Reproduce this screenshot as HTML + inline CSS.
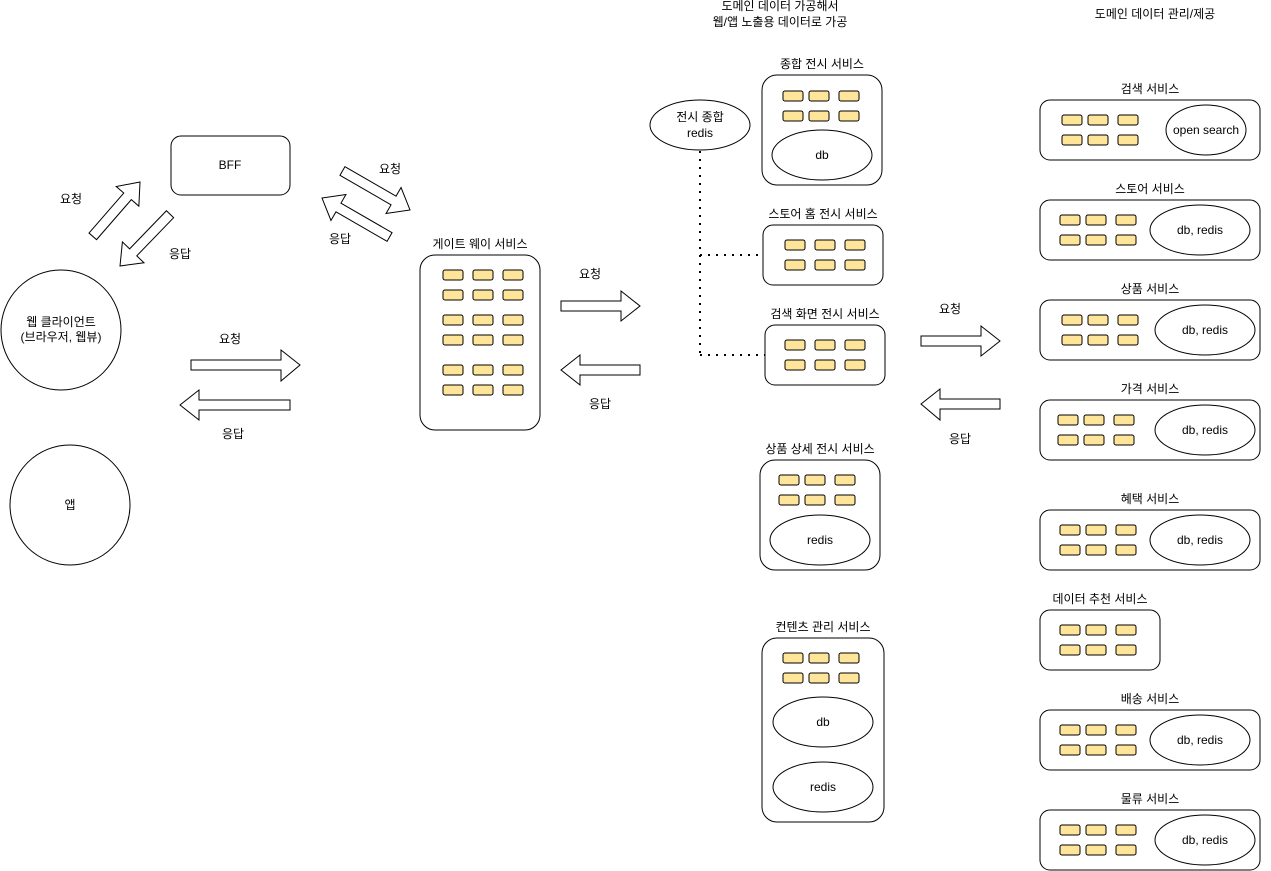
<!DOCTYPE html>
<html><head><meta charset="utf-8"><style>
html,body{margin:0;padding:0;background:#fff;}
svg{display:block;}
text{font-family:"Liberation Sans","Noto Sans CJK KR",sans-serif;font-size:12px;fill:#000;text-anchor:middle;}
.s{fill:#ffe599;stroke:#000;stroke-width:1;}
.b{fill:#fff;stroke:#000;stroke-width:1;}
</style></head><body>
<svg width="1271" height="871" viewBox="0 0 1271 871" xmlns="http://www.w3.org/2000/svg">
<defs>
<polygon id="ar" points="0,-5 -19,-5 -19,-15 0,0 -19,15 -19,5 0,5" />
<g id="g6">
<rect class="s" x="0" y="0" width="20" height="10" rx="2"/>
<rect class="s" x="26" y="0" width="20" height="10" rx="2"/>
<rect class="s" x="56" y="0" width="20" height="10" rx="2"/>
<rect class="s" x="0" y="20" width="20" height="10" rx="2"/>
<rect class="s" x="26" y="20" width="20" height="10" rx="2"/>
<rect class="s" x="56" y="20" width="20" height="10" rx="2"/>
</g>
<g id="g6b">
<rect class="s" x="0" y="0" width="20" height="10" rx="2"/>
<rect class="s" x="30" y="0" width="20" height="10" rx="2"/>
<rect class="s" x="60" y="0" width="20" height="10" rx="2"/>
<rect class="s" x="0" y="20" width="20" height="10" rx="2"/>
<rect class="s" x="30" y="20" width="20" height="10" rx="2"/>
<rect class="s" x="60" y="20" width="20" height="10" rx="2"/>
</g>
</defs>

<!-- left side -->
<circle class="b" cx="61" cy="330" r="60"/>
<text x="61" y="326">웹 클라이언트</text>
<text x="61" y="341">(브라우저, 웹뷰)</text>
<circle class="b" cx="70" cy="505" r="60"/>
<text x="70" y="509">앱</text>
<rect class="b" x="171" y="136" width="119" height="59" rx="10"/>
<text x="230" y="169">BFF</text>

<!-- diagonal arrows -->
<g transform="translate(140,183) rotate(-50)"><path class="b" d="M0,-5 L-57,-5 L-57,5 L0,5" style="display:none"/></g>
<g transform="translate(140,182) rotate(-49)">
<polygon class="b" points="-72,-5 -19,-5 -19,-15 0,0 -19,15 -19,5 -72,5"/></g>
<g transform="translate(120,266) rotate(134)">
<polygon class="b" points="-72,-5 -19,-5 -19,-15 0,0 -19,15 -19,5 -72,5"/></g>
<g transform="translate(410,210) rotate(30)">
<polygon class="b" points="-78,-5 -19,-5 -19,-15 0,0 -19,15 -19,5 -78,5"/></g>
<g transform="translate(322,198) rotate(210)">
<polygon class="b" points="-78,-5 -19,-5 -19,-15 0,0 -19,15 -19,5 -78,5"/></g>
<text x="71" y="203">요청</text>
<text x="180" y="258">응답</text>
<text x="390" y="173">요청</text>
<text x="340" y="243">응답</text>

<!-- horizontal arrows -->
<polygon class="b" points="191,360 281,360 281,350 300,365 281,381 281,370 191,370"/>
<polygon class="b" points="290,400 199,400 199,390 180,405 199,420 199,410 290,410"/>
<text x="230" y="343">요청</text>
<text x="233" y="438">응답</text>
<polygon class="b" points="561,301 621,301 621,291 640,306 621,321 621,311 561,311"/>
<polygon class="b" points="640,365 580,365 580,355 561,370 580,385 580,375 640,375"/>
<text x="590" y="278">요청</text>
<text x="600" y="408">응답</text>
<polygon class="b" points="921,336 981,336 981,326 1000,341 981,356 981,346 921,346"/>
<polygon class="b" points="1000,399 940,399 940,389 921,404 940,420 940,409 1000,409"/>
<text x="950" y="313">요청</text>
<text x="960" y="443">응답</text>

<!-- gateway -->
<text x="480" y="248">게이트 웨이 서비스</text>
<rect class="b" x="420" y="255" width="120" height="175" rx="15"/>
<use href="#g6b" x="443" y="270"/>
<use href="#g6b" x="443" y="315"/>
<use href="#g6b" x="443" y="365"/>

<!-- headings -->
<text x="780" y="10">도메인 데이터 가공해서</text>
<text x="780" y="26">웹/앱 노출용 데이터로 가공</text>
<text x="1155" y="18">도메인 데이터 관리/제공</text>

<!-- display services -->
<ellipse class="b" cx="700" cy="125" rx="50" ry="25"/>
<text x="700" y="121">전시 종합</text>
<text x="700" y="137">redis</text>
<path d="M700,151 V355 M700,255 H763 M700,355 H765" fill="none" stroke="#000" stroke-width="2" stroke-dasharray="2,6"/>

<text x="822" y="68">종합 전시 서비스</text>
<rect class="b" x="762" y="75" width="120" height="110" rx="15"/>
<use href="#g6" x="783" y="91"/>
<ellipse class="b" cx="822" cy="155" rx="50" ry="25"/>
<text x="822" y="159">db</text>

<text x="823" y="218">스토어 홈 전시 서비스</text>
<rect class="b" x="763" y="225" width="120" height="60" rx="10"/>
<use href="#g6b" x="785" y="240"/>

<text x="825" y="318">검색 화면 전시 서비스</text>
<rect class="b" x="765" y="325" width="120" height="60" rx="10"/>
<use href="#g6b" x="785" y="340"/>

<text x="820" y="453">상품 상세 전시 서비스</text>
<rect class="b" x="760" y="460" width="120" height="110" rx="15"/>
<use href="#g6" x="779" y="475"/>
<ellipse class="b" cx="820" cy="540" rx="50" ry="25"/>
<text x="820" y="544">redis</text>

<text x="823" y="631">컨텐츠 관리 서비스</text>
<rect class="b" x="762" y="638" width="122" height="184" rx="15"/>
<use href="#g6" x="783" y="653"/>
<ellipse class="b" cx="823" cy="722" rx="50" ry="25"/>
<text x="823" y="726">db</text>
<ellipse class="b" cx="823" cy="787" rx="50" ry="25"/>
<text x="823" y="791">redis</text>

<!-- domain services -->
<text x="1150" y="93">검색 서비스</text>
<rect class="b" x="1040" y="100" width="220" height="60" rx="10"/>
<use href="#g6" x="1062" y="115"/>
<ellipse class="b" cx="1206" cy="130" rx="40" ry="25"/>
<text x="1206" y="134">open search</text>

<text x="1150" y="193">스토어 서비스</text>
<rect class="b" x="1040" y="200" width="220" height="60" rx="10"/>
<use href="#g6" x="1060" y="215"/>
<ellipse class="b" cx="1200" cy="230" rx="50" ry="25"/>
<text x="1200" y="234">db, redis</text>

<text x="1150" y="293">상품 서비스</text>
<rect class="b" x="1040" y="300" width="220" height="60" rx="10"/>
<use href="#g6" x="1062" y="315"/>
<ellipse class="b" cx="1205" cy="330" rx="50" ry="25"/>
<text x="1205" y="334">db, redis</text>

<text x="1150" y="393">가격 서비스</text>
<rect class="b" x="1040" y="400" width="220" height="60" rx="10"/>
<use href="#g6" x="1058" y="415"/>
<ellipse class="b" cx="1205" cy="430" rx="50" ry="25"/>
<text x="1205" y="434">db, redis</text>

<text x="1150" y="503">혜택 서비스</text>
<rect class="b" x="1040" y="510" width="220" height="60" rx="10"/>
<use href="#g6" x="1060" y="525"/>
<ellipse class="b" cx="1200" cy="540" rx="50" ry="25"/>
<text x="1200" y="544">db, redis</text>

<text x="1100" y="603">데이터 추천 서비스</text>
<rect class="b" x="1040" y="610" width="120" height="60" rx="10"/>
<use href="#g6" x="1060" y="625"/>

<text x="1150" y="703">배송 서비스</text>
<rect class="b" x="1040" y="710" width="220" height="60" rx="10"/>
<use href="#g6" x="1060" y="725"/>
<ellipse class="b" cx="1200" cy="740" rx="50" ry="25"/>
<text x="1200" y="744">db, redis</text>

<text x="1150" y="803">물류 서비스</text>
<rect class="b" x="1040" y="810" width="220" height="60" rx="10"/>
<use href="#g6" x="1060" y="825"/>
<ellipse class="b" cx="1205" cy="840" rx="50" ry="25"/>
<text x="1205" y="844">db, redis</text>
</svg>
</body></html>
